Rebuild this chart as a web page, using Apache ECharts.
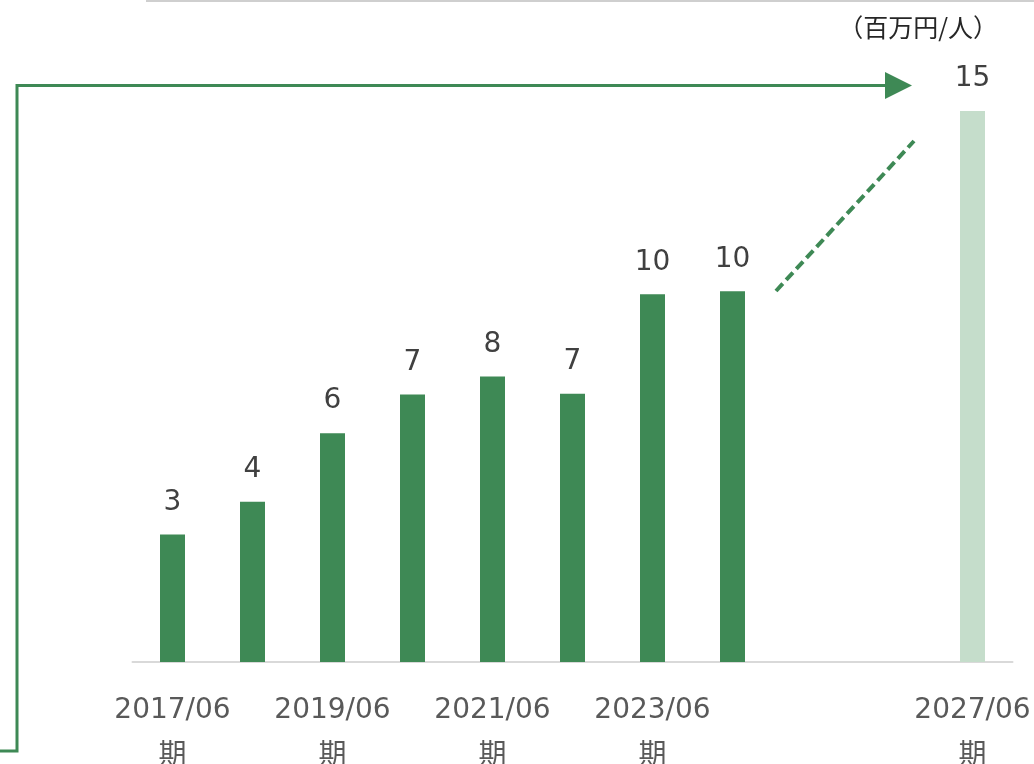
<!DOCTYPE html>
<html>
<head>
<meta charset="utf-8">
<style>
  html, body { margin: 0; padding: 0; background: #ffffff; }
  #chart { width: 1034px; height: 764px; }
</style>
<script src="https://cdn.jsdelivr.net/npm/echarts@6/dist/echarts.min.js"></script>
</head>
<body>
<div id="chart"></div>
<script>
// Fiscal periods (June year-end); 2025 and 2026 have no bar.
const periods = ['2017/06', '2018/06', '2019/06', '2020/06', '2021/06', '2022/06',
                 '2023/06', '2024/06', '2025/06', '2026/06', '2027/06'];
// Periods whose axis label is printed
const labelledPeriods = ['2017/06', '2019/06', '2021/06', '2023/06', '2027/06'];
// Value per employee (million yen); 2027/06 is the target
const actualValues = [3.47, 4.36, 6.23, 7.28, 7.77, 7.30, 10.01, 10.09, null, null, null];
const targetValues = [null, null, null, null, null, null, null, null, null, null, 15];
const unitLabel = '（百万円/人）';
const periodSuffix = '期';

const GREEN = '#3e8955';
const LIGHT_GREEN = '#c5ddcb';
const FONT = "'DejaVu Sans', 'Noto Sans CJK JP', sans-serif";

const chart = echarts.init(document.getElementById('chart'), null, { renderer: 'canvas' });

const valueLabel = {
  show: true,
  position: 'top',
  distance: 18,
  color: '#404040',
  fontFamily: FONT,
  fontSize: 28,
  formatter: p => (p.value == null ? '' : String(Math.round(p.value)))
};

chart.setOption({
  animation: false,
  backgroundColor: '#ffffff',
  grid: {
    left: 132.5, width: 880, top: 111, height: 551,
    containLabel: false,
    outerBoundsMode: 'none'
  },
  xAxis: {
    type: 'category',
    data: periods,
    axisLine: { show: true, lineStyle: { color: '#d9d9d9', width: 2 } },
    axisTick: { show: false },
    axisLabel: {
      interval: 0,
      margin: 26,
      color: '#595959',
      fontFamily: FONT,
      fontSize: 28,
      lineHeight: 46,
      formatter: v => (labelledPeriods.includes(v) ? v + '\n' + periodSuffix : '')
    }
  },
  yAxis: {
    type: 'value',
    min: 0,
    max: 15,
    show: false,
    splitLine: { show: false }
  },
  series: [
    {
      type: 'bar',
      data: actualValues,
      barWidth: 25,
      barGap: '-100%',
      itemStyle: { color: GREEN },
      label: valueLabel
    },
    {
      type: 'bar',
      data: targetValues,
      barWidth: 25,
      barGap: '-100%',
      itemStyle: { color: LIGHT_GREEN },
      label: valueLabel
    }
  ],
  graphic: [
    // thin rule along the top edge
    {
      type: 'line',
      shape: { x1: 146, y1: 1, x2: 1034, y2: 1 },
      style: { stroke: '#cfcfcf', lineWidth: 2 }
    },
    // growth arrow wrapping the chart
    {
      type: 'polyline',
      shape: { points: [[0, 751], [17, 751], [17, 85.5], [888, 85.5]] },
      style: { stroke: GREEN, lineWidth: 3, fill: null }
    },
    {
      type: 'polygon',
      shape: { points: [[885, 72], [912, 85.5], [885, 99]] },
      style: { fill: GREEN }
    },
    // dashed trend toward the target
    {
      type: 'line',
      shape: { x1: 776, y1: 291, x2: 914, y2: 141 },
      style: { stroke: GREEN, lineWidth: 4, lineDash: [10, 5] }
    },
    // unit caption
    {
      type: 'text',
      right: 36,
      top: 15,
      style: {
        text: unitLabel,
        fill: '#262626',
        font: "25px 'Noto Sans CJK JP', sans-serif"
      }
    }
  ]
});
</script>
</body>
</html>
